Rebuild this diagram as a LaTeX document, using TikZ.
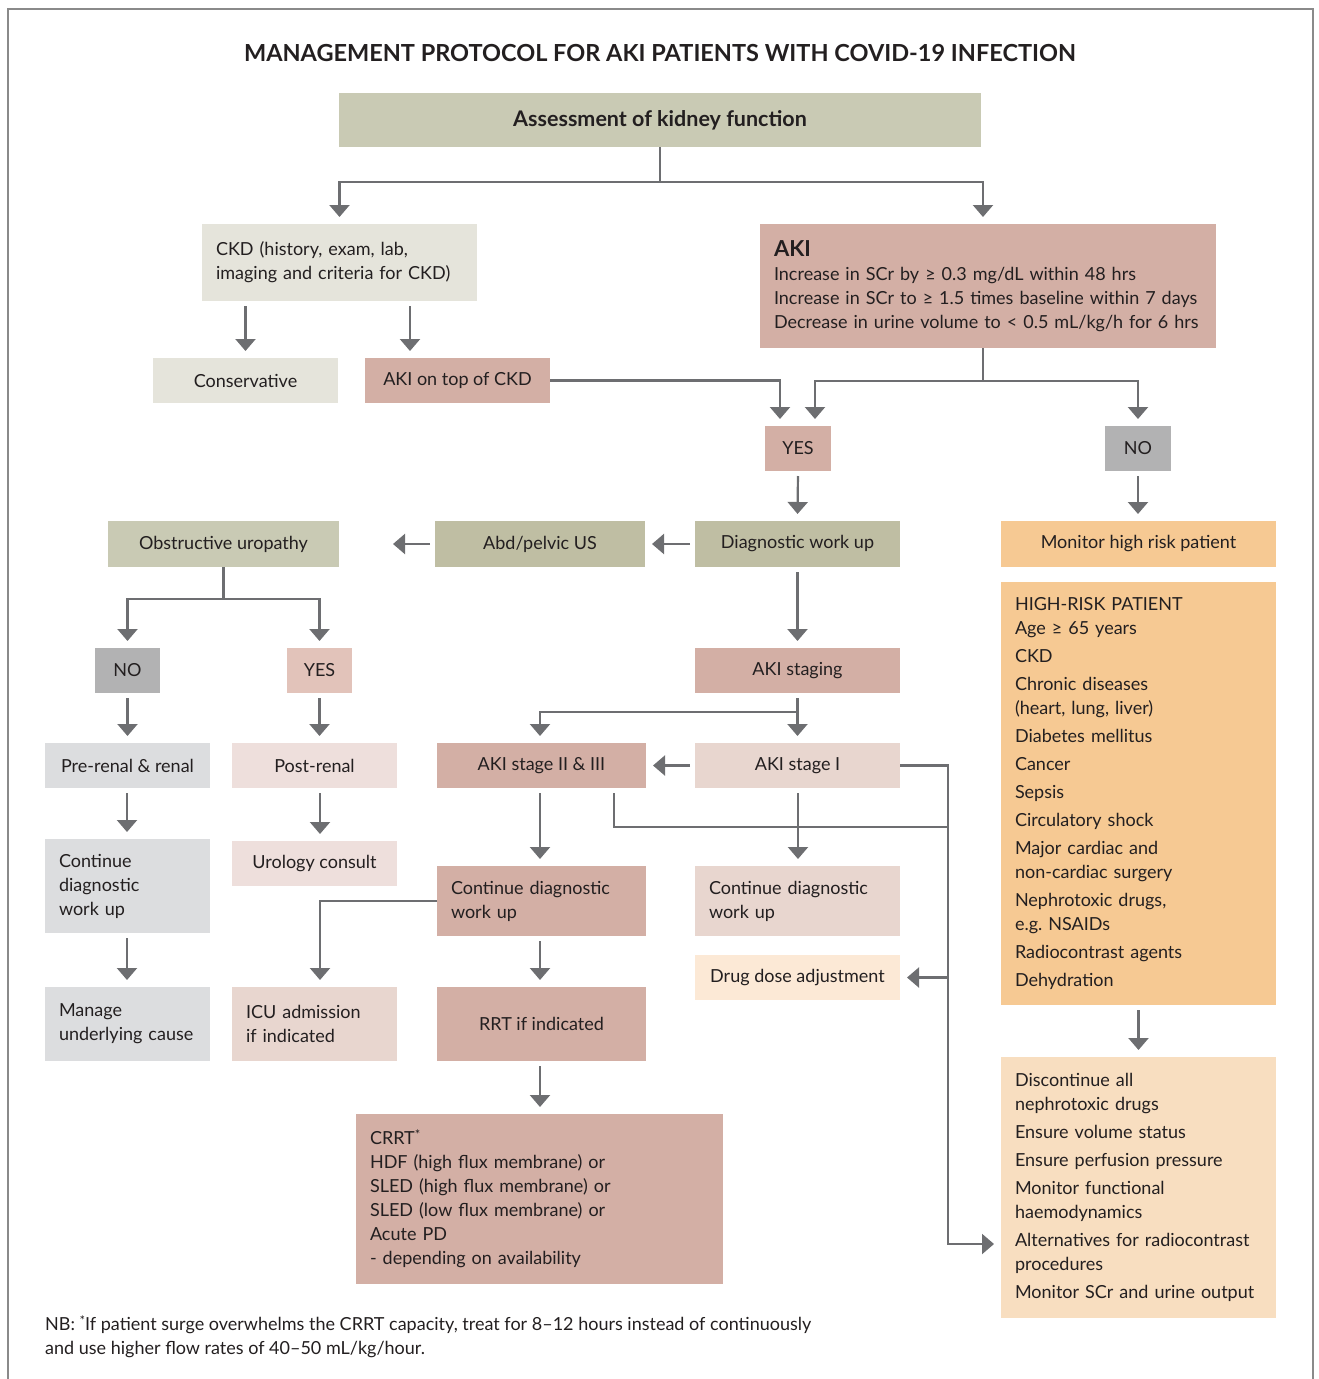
\documentclass[tikz,border=0pt]{standalone}
\usepackage{fontspec}
\setmainfont{Lato}
\usetikzlibrary{arrows.meta}
\definecolor{txt}{HTML}{231F20}
\definecolor{lc}{HTML}{6D6E71}
\definecolor{framec}{HTML}{8A8A8A}
\definecolor{olive}{HTML}{C9CAB4}
\definecolor{oliveD}{HTML}{BFBEA3}
\definecolor{ckdc}{HTML}{E5E4DB}
\definecolor{pinkD}{HTML}{D3AFA5}
\definecolor{pinkL}{HTML}{E8D6CF}
\definecolor{pinkM}{HTML}{E2C3BA}
\definecolor{pinkP}{HTML}{EEDFDC}
\definecolor{grayD}{HTML}{B2B2B3}
\definecolor{grayL}{HTML}{DCDDDF}
\definecolor{orangeD}{HTML}{F6C993}
\definecolor{orangeL}{HTML}{F8DEC0}
\definecolor{drugc}{HTML}{FCE9D6}
\newcommand\fs{\fontsize{18}{24}\selectfont}
\newcommand\myast{\raisebox{5pt}{\fontsize{13}{13}\selectfont *}}
\newcommand\cbox[7]{\node[box,fill=#1,minimum width={#5-#3},minimum height={#6-#4}] (#2) at ({(#3+#5)/2},{(#4+#6)/2}) {#7};}
\newcommand\lbox[7]{\node[box,fill=#1,align=left,inner xsep=14pt,text width=\dimexpr#5pt-#3pt-28pt\relax,minimum width={#5-#3},minimum height={#6-#4}] (#2) at ({(#3+#5)/2},{(#4+#6)/2}) {#7};}
\tikzset{
  box/.style={draw=none,inner ysep=0pt,inner xsep=4pt,outer sep=0pt,font=\fs,text=txt,align=center},
  arr/.style={draw=lc,line width=2.2pt,shorten <=5pt,shorten >=7pt,-{Triangle[width=20pt,length=12pt]}},
  arr0/.style={arr,shorten <=0pt},
  ln/.style={draw=lc,line width=2.2pt}
}
\begin{document}
\begin{tikzpicture}[x=1pt,y=-1pt]
\useasboundingbox (0,0) rectangle (1319,1379);
\draw[framec,line width=1.5pt] (8,1379) -- (8,9) -- (1313,9) -- (1313,1379);
\node[font=\bfseries\fontsize{23.5}{26}\selectfont,text=txt] (title) at (660,53) {MANAGEMENT PROTOCOL FOR AKI PATIENTS WITH COVID-19 INFECTION};

\cbox{olive}{assess}{339}{93}{981}{147}{\textbf{\fontsize{21.5}{24}\selectfont Assessment of kidney function}}
\lbox{ckdc}{ckd}{202}{224}{477}{301}{CKD (history, exam, lab,\\ imaging and criteria for CKD)}
\lbox{pinkD}{aki}{760}{224}{1216}{348}{{\bfseries\fontsize{22}{24}\selectfont AKI}\\ Increase in SCr by ≥ 0.3 mg/dL within 48 hrs\\ Increase in SCr to ≥ 1.5 times baseline within 7 days\\ Decrease in urine volume to < 0.5 mL/kg/h for 6 hrs}
\cbox{ckdc}{cons}{153}{358}{338}{403}{Conservative}
\cbox{pinkD}{akitop}{365}{358}{550}{403}{AKI on top of CKD}
\cbox{pinkD}{yes}{765}{426}{831}{471}{YES}
\cbox{grayD}{nor}{1105}{426}{1171}{471}{NO}
\cbox{oliveD}{diag}{695}{521}{900}{567}{Diagnostic work up}
\cbox{oliveD}{abd}{435}{521}{645}{567}{Abd/pelvic US}
\cbox{olive}{obs}{108}{521}{339}{567}{Obstructive uropathy}
\cbox{orangeD}{mon}{1001}{521}{1276}{567}{Monitor high risk patient}
\lbox{orangeD}{hr}{1001}{582}{1276}{1005}{HIGH-RISK PATIENT\\ Age ≥ 65 years\\[4pt] CKD\\[4pt] Chronic diseases\\ (heart, lung, liver)\\[4pt] Diabetes mellitus\\[4pt] Cancer\\[4pt] Sepsis\\[4pt] Circulatory shock\\[4pt] Major cardiac and\\ non-cardiac surgery\\[4pt] Nephrotoxic drugs,\\ e.g.\ NSAIDs\\[4pt] Radiocontrast agents\\[4pt] Dehydration}
\lbox{orangeL}{disc}{1001}{1057}{1276}{1318}{Discontinue all\\ nephrotoxic drugs\\[4pt] Ensure volume status\\[4pt] Ensure perfusion pressure\\[4pt] Monitor functional\\ haemodynamics\\[4pt] Alternatives for radiocontrast\\ procedures\\[4pt] Monitor SCr and urine output}
\cbox{pinkD}{stg}{695}{648}{900}{693}{AKI staging}
\cbox{pinkD}{stB}{437}{743}{646}{788}{AKI stage II \& III}
\cbox{pinkL}{stA}{695}{743}{900}{788}{AKI stage I}
\lbox{pinkD}{cdp}{437}{866}{646}{936}{Continue diagnostic\\ work up}
\lbox{pinkL}{cdl}{695}{866}{900}{936}{Continue diagnostic\\ work up}
\cbox{drugc}{drug}{695}{955}{900}{1000}{Drug dose adjustment}
\lbox{pinkL}{icu}{232}{987}{397}{1061}{ICU admission\\ if indicated}
\cbox{pinkD}{rrt}{437}{987}{646}{1061}{RRT if indicated}
\lbox{pinkD}{crrt}{356}{1114}{723}{1284}{CRRT\myast\\ HDF (high flux membrane) or\\ SLED (high flux membrane) or\\ SLED (low flux membrane) or\\ Acute PD\\ - depending on availability}
\cbox{grayD}{nol}{95}{648}{160}{693}{NO}
\cbox{pinkM}{yesl}{287}{648}{352}{693}{YES}
\cbox{grayL}{pre}{45}{743}{210}{788}{Pre-renal \& renal}
\cbox{pinkP}{post}{232}{743}{397}{788}{Post-renal}
\lbox{grayL}{cdg}{45}{839}{210}{933}{Continue\\ diagnostic\\ work up}
\cbox{pinkP}{uro}{232}{841}{397}{886}{Urology consult}
\lbox{grayL}{man}{45}{987}{210}{1061}{Manage\\ underlying cause}
\node[anchor=base west,align=left,font=\fs,text=txt,inner sep=0pt] (nb) at (45,1354) {NB: \myast If patient surge overwhelms the CRRT capacity, treat for 8–12 hours instead of continuously\\ and use higher flow rates of 40–50 mL/kg/hour.};

% connectors
\draw[arr0] (assess.south) -- ++(0,35) -| (ckd.north);
\draw[arr0] (assess.south) -- ++(0,35) -| (983,0 |- aki.north);
\draw[arr] (cons.north |- ckd.south) -- (cons.north);
\draw[arr] (410,0 |- ckd.south) -- (410,0 |- akitop.north);
\draw[arr0] (akitop.east) -| (780,0 |- yes.north);
\draw[arr0] (983,0 |- aki.south) -- (983,381) -| (815,0 |- yes.north);
\draw[arr0] (983,0 |- aki.south) -- (983,381) -| (nor.north);
\draw[arr] (yes.south) -- (diag.north);
\draw[arr] (nor.south) -- (nor.south |- mon.north);
\draw[arr] (diag.west) -- (abd.east);
\draw[arr,shorten >=54pt] (abd.west) -- (obs.east);
\draw[arr] (diag.south) -- (diag.south |- stg.north);
\draw[arr] (stg.south) -- (stg.south |- stA.north);
\draw[arr] (798,0 |- stg.south) -- (798,712) -| (540,0 |- stB.north);
\draw[arr] (stA.west) -- (stB.east);
\draw[arr0] (stA.east) -| (948,1244) -- (disc.west |- 948,1244);
\draw[arr0] (948,0 |- drug.east) -- (drug.east);
\draw[ln,shorten <=5pt] (614,0 |- stB.south) |- (948,827);
\draw[arr] (540,0 |- stB.south) -- (540,0 |- cdp.north);
\draw[arr] (798,0 |- stA.south) -- (798,0 |- cdl.north);
\draw[arr0] (cdp.west) -| (320,0 |- icu.north);
\draw[arr] (540,0 |- cdp.south) -- (540,0 |- rrt.north);
\draw[arr] (540,0 |- rrt.south) -- (540,0 |- crrt.north);
\draw[arr0] (obs.south) -- ++(0,32) -| (nol.north);
\draw[arr0] (obs.south) -- ++(0,32) -| (yesl.north);
\draw[arr] (nol.south) -- (nol.south |- pre.north);
\draw[arr] (yesl.south) -- (yesl.south |- post.north);
\draw[arr] (127,0 |- pre.south) -- (127,0 |- cdg.north);
\draw[arr] (127,0 |- cdg.south) -- (127,0 |- man.north);
\draw[arr] (320,0 |- post.south) -- (320,0 |- uro.north);
\draw[arr] (hr.south) -- (hr.south |- disc.north);
\end{tikzpicture}
\end{document}
